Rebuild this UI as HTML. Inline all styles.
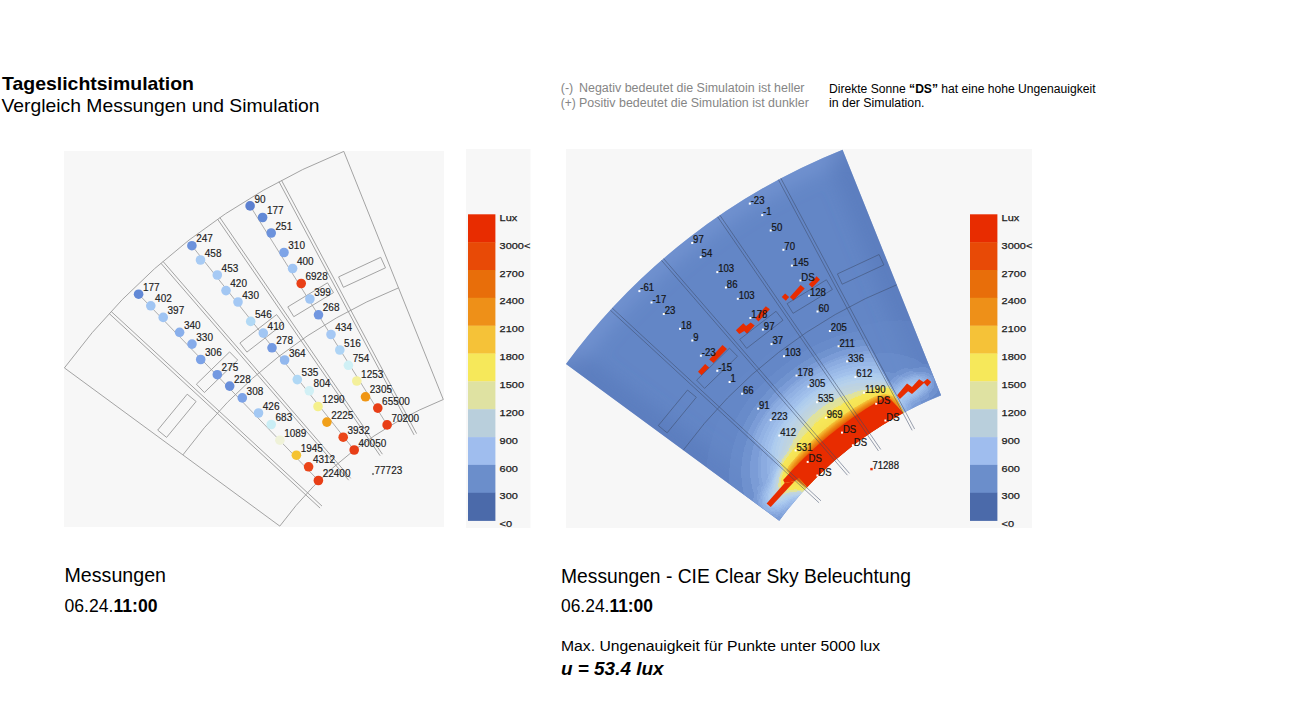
<!DOCTYPE html>
<html><head><meta charset="utf-8"><style>
html,body{margin:0;padding:0;background:#fff;width:1300px;height:728px;overflow:hidden}
svg{display:block}
</style></head><body>
<svg width="1300" height="728" viewBox="0 0 1300 728">
<g font-family="&quot;Liberation Sans&quot;, sans-serif" fill="#000">
<text x="2" y="89.7" font-size="18.2" font-weight="bold" textLength="192" lengthAdjust="spacingAndGlyphs">Tageslichtsimulation</text>
<text x="1.5" y="111.5" font-size="17.8" textLength="318" lengthAdjust="spacingAndGlyphs">Vergleich Messungen und Simulation</text>
</g>
<g font-family="&quot;Liberation Sans&quot;, sans-serif" fill="#858585" font-size="12">
<text x="560.8" y="92.4" textLength="12.5" lengthAdjust="spacingAndGlyphs">(-)</text>
<text x="579" y="92.4" textLength="225.5" lengthAdjust="spacingAndGlyphs">Negativ bedeutet die Simulatoin ist heller</text>
<text x="560.8" y="106.9" textLength="15" lengthAdjust="spacingAndGlyphs">(+)</text>
<text x="579" y="106.9" textLength="229.8" lengthAdjust="spacingAndGlyphs">Positiv bedeutet die Simulation ist dunkler</text>
</g>
<g font-family="&quot;Liberation Sans&quot;, sans-serif" fill="#000" font-size="12">
<text x="829" y="92.6" textLength="266.5" lengthAdjust="spacingAndGlyphs">Direkte Sonne <tspan font-weight="bold">“DS”</tspan> hat eine hohe Ungenauigkeit</text>
<text x="829" y="107.0" textLength="95.5" lengthAdjust="spacingAndGlyphs">in der Simulation.</text>
</g>
<g font-family="&quot;Liberation Sans&quot;, sans-serif" fill="#000">
<text x="64.5" y="582.3" font-size="20" textLength="101.5" lengthAdjust="spacingAndGlyphs">Messungen</text>
<text x="64.5" y="611.5" font-size="18.5" textLength="93" lengthAdjust="spacingAndGlyphs">06.24.<tspan font-weight="bold">11:00</tspan></text>
<text x="561" y="582.8" font-size="20" textLength="350" lengthAdjust="spacingAndGlyphs">Messungen - CIE Clear Sky Beleuchtung</text>
<text x="561" y="612" font-size="18.5" textLength="92" lengthAdjust="spacingAndGlyphs">06.24.<tspan font-weight="bold">11:00</tspan></text>
<text x="561" y="650.6" font-size="15.2" textLength="319" lengthAdjust="spacingAndGlyphs">Max. Ungenauigkeit für Punkte unter 5000 lux</text>
<text x="561" y="674.6" font-size="18" font-weight="bold" font-style="italic" textLength="102.5" lengthAdjust="spacingAndGlyphs">u = 53.4 lux</text>
</g>
<rect x="64" y="151" width="380" height="376" fill="#f7f7f7"/>
<g fill="none" stroke="#9a9a9a" stroke-width="0.9">
<path d="M64.4,367.9 A644.0,644.0 0 0 1 343.8,151.4 L443.3,399.5 A376.7,376.7 0 0 0 279.8,526.1 Z"/>
<path d="M182.9,454.9 A497.0,497.0 0 0 1 398.5,287.9"/>
<path d="M279.0,181.7 L414.1,434.9 M281.5,180.3 L416.6,433.6 M217.6,219.2 L380.1,455.7 M219.9,217.6 L382.4,454.2 M160.9,263.2 L348.7,480.2 M163.0,261.4 L350.8,478.4 M109.2,313.5 L320.1,508.1 M111.1,311.4 L322.0,506.1"/>
<path d="M338.6,276.9 L380.7,257.3 L385.5,267.8 L343.4,287.3 Z M287.8,306.9 L327.5,282.8 L333.5,292.6 L293.8,316.7 Z M239.9,343.0 L276.6,314.6 L283.6,323.7 L246.9,352.1 Z M196.4,384.2 L229.6,351.9 L237.7,360.1 L204.4,392.5 Z M157.7,430.1 L187.2,394.2 L196.1,401.5 L166.6,437.4 Z"/>
</g>
<g stroke="#9a9a9a" stroke-width="0.8">
<line x1="250.1" y1="205.9" x2="387.1" y2="424.9"/>
<line x1="191.9" y1="245.7" x2="354.2" y2="450.0"/>
<line x1="138.6" y1="294.2" x2="318.4" y2="480.5"/>
</g>
<g>
<circle cx="250.1" cy="205.9" r="4.8" fill="#5c80d0"/>
<circle cx="262.6" cy="217.5" r="4.8" fill="#6289d6"/>
<circle cx="271.2" cy="233.0" r="4.8" fill="#6c92dc"/>
<circle cx="284.0" cy="252.5" r="4.8" fill="#7ea4e7"/>
<circle cx="292.6" cy="268.5" r="4.8" fill="#a0c5f3"/>
<circle cx="301.2" cy="283.5" r="4.8" fill="#e94017"/>
<circle cx="309.9" cy="299.0" r="4.8" fill="#a0c5f3"/>
<circle cx="318.5" cy="314.8" r="4.8" fill="#7197e0"/>
<circle cx="331.0" cy="334.5" r="4.8" fill="#a5c8f4"/>
<circle cx="339.8" cy="350.0" r="4.8" fill="#aed4f5"/>
<circle cx="348.4" cy="365.3" r="4.8" fill="#cff0f5"/>
<circle cx="356.8" cy="381.0" r="4.8" fill="#f4f09b"/>
<circle cx="365.5" cy="396.8" r="4.8" fill="#f09614"/>
<circle cx="377.8" cy="408.1" r="4.8" fill="#e83e16"/>
<circle cx="387.1" cy="424.9" r="4.8" fill="#e83e16"/>
<circle cx="191.9" cy="245.7" r="4.8" fill="#6c92dc"/>
<circle cx="200.5" cy="260.0" r="4.8" fill="#a8cbf4"/>
<circle cx="217.3" cy="275.0" r="4.8" fill="#a7caf4"/>
<circle cx="226.0" cy="290.6" r="4.8" fill="#a3c7f3"/>
<circle cx="238.0" cy="302.0" r="4.8" fill="#a4c8f4"/>
<circle cx="250.7" cy="321.4" r="4.8" fill="#b2d9f5"/>
<circle cx="263.3" cy="333.1" r="4.8" fill="#a1c6f3"/>
<circle cx="272.0" cy="347.8" r="4.8" fill="#749ae2"/>
<circle cx="284.6" cy="360.0" r="4.8" fill="#92b8ee"/>
<circle cx="297.3" cy="379.6" r="4.8" fill="#b0d8f5"/>
<circle cx="309.3" cy="390.8" r="4.8" fill="#d1f0f5"/>
<circle cx="318.0" cy="406.5" r="4.8" fill="#f5f08c"/>
<circle cx="326.9" cy="422.1" r="4.8" fill="#f1a01a"/>
<circle cx="343.2" cy="437.2" r="4.8" fill="#eb4619"/>
<circle cx="354.2" cy="450.0" r="4.8" fill="#e83e16"/>
<circle cx="138.6" cy="294.2" r="4.8" fill="#6289d6"/>
<circle cx="150.8" cy="305.8" r="4.8" fill="#a0c5f3"/>
<circle cx="163.2" cy="317.4" r="4.8" fill="#9fc4f3"/>
<circle cx="179.6" cy="332.3" r="4.8" fill="#89afeb"/>
<circle cx="192.0" cy="344.1" r="4.8" fill="#85abea"/>
<circle cx="200.7" cy="359.5" r="4.8" fill="#7ca2e7"/>
<circle cx="217.3" cy="374.7" r="4.8" fill="#7399e1"/>
<circle cx="229.7" cy="386.1" r="4.8" fill="#698fda"/>
<circle cx="242.3" cy="397.9" r="4.8" fill="#7da3e7"/>
<circle cx="258.5" cy="413.0" r="4.8" fill="#a3c8f3"/>
<circle cx="271.2" cy="424.5" r="4.8" fill="#caeef5"/>
<circle cx="279.9" cy="440.2" r="4.8" fill="#eff2d8"/>
<circle cx="296.4" cy="455.2" r="4.8" fill="#f5c333"/>
<circle cx="308.6" cy="466.8" r="4.8" fill="#eb4519"/>
<circle cx="318.4" cy="480.5" r="4.8" fill="#e83e16"/>
</g>
<g font-family="&quot;Liberation Sans&quot;, sans-serif" font-size="10.1" fill="#1c1c1c" stroke="#1c1c1c" stroke-width="0.15">
<text x="254.4" y="202.5" textLength="11.1" lengthAdjust="spacingAndGlyphs">90</text>
<text x="266.9" y="214.1" textLength="16.7" lengthAdjust="spacingAndGlyphs">177</text>
<text x="275.5" y="229.6" textLength="16.7" lengthAdjust="spacingAndGlyphs">251</text>
<text x="288.3" y="249.1" textLength="16.7" lengthAdjust="spacingAndGlyphs">310</text>
<text x="296.9" y="265.1" textLength="16.7" lengthAdjust="spacingAndGlyphs">400</text>
<text x="305.5" y="280.1" textLength="22.2" lengthAdjust="spacingAndGlyphs">6928</text>
<text x="314.2" y="295.6" textLength="16.7" lengthAdjust="spacingAndGlyphs">399</text>
<text x="322.8" y="311.4" textLength="16.7" lengthAdjust="spacingAndGlyphs">268</text>
<text x="335.3" y="331.1" textLength="16.7" lengthAdjust="spacingAndGlyphs">434</text>
<text x="344.1" y="346.6" textLength="16.7" lengthAdjust="spacingAndGlyphs">516</text>
<text x="352.7" y="361.9" textLength="16.7" lengthAdjust="spacingAndGlyphs">754</text>
<text x="361.1" y="377.6" textLength="22.2" lengthAdjust="spacingAndGlyphs">1253</text>
<text x="369.8" y="393.4" textLength="22.2" lengthAdjust="spacingAndGlyphs">2305</text>
<text x="382.1" y="404.7" textLength="27.8" lengthAdjust="spacingAndGlyphs">65500</text>
<text x="391.4" y="421.5" textLength="27.8" lengthAdjust="spacingAndGlyphs">70200</text>
<text x="196.2" y="242.3" textLength="16.7" lengthAdjust="spacingAndGlyphs">247</text>
<text x="204.8" y="256.6" textLength="16.7" lengthAdjust="spacingAndGlyphs">458</text>
<text x="221.6" y="271.6" textLength="16.7" lengthAdjust="spacingAndGlyphs">453</text>
<text x="230.3" y="287.2" textLength="16.7" lengthAdjust="spacingAndGlyphs">420</text>
<text x="242.3" y="298.6" textLength="16.7" lengthAdjust="spacingAndGlyphs">430</text>
<text x="255.0" y="318.0" textLength="16.7" lengthAdjust="spacingAndGlyphs">546</text>
<text x="267.6" y="329.7" textLength="16.7" lengthAdjust="spacingAndGlyphs">410</text>
<text x="276.3" y="344.4" textLength="16.7" lengthAdjust="spacingAndGlyphs">278</text>
<text x="288.9" y="356.6" textLength="16.7" lengthAdjust="spacingAndGlyphs">364</text>
<text x="301.6" y="376.2" textLength="16.7" lengthAdjust="spacingAndGlyphs">535</text>
<text x="313.6" y="387.4" textLength="16.7" lengthAdjust="spacingAndGlyphs">804</text>
<text x="322.3" y="403.1" textLength="22.2" lengthAdjust="spacingAndGlyphs">1290</text>
<text x="331.2" y="418.7" textLength="22.2" lengthAdjust="spacingAndGlyphs">2225</text>
<text x="347.5" y="433.8" textLength="22.2" lengthAdjust="spacingAndGlyphs">3932</text>
<text x="358.5" y="446.6" textLength="27.8" lengthAdjust="spacingAndGlyphs">40050</text>
<text x="142.9" y="290.8" textLength="16.7" lengthAdjust="spacingAndGlyphs">177</text>
<text x="155.1" y="302.4" textLength="16.7" lengthAdjust="spacingAndGlyphs">402</text>
<text x="167.5" y="314.0" textLength="16.7" lengthAdjust="spacingAndGlyphs">397</text>
<text x="183.9" y="328.9" textLength="16.7" lengthAdjust="spacingAndGlyphs">340</text>
<text x="196.3" y="340.7" textLength="16.7" lengthAdjust="spacingAndGlyphs">330</text>
<text x="205.0" y="356.1" textLength="16.7" lengthAdjust="spacingAndGlyphs">306</text>
<text x="221.6" y="371.3" textLength="16.7" lengthAdjust="spacingAndGlyphs">275</text>
<text x="234.0" y="382.7" textLength="16.7" lengthAdjust="spacingAndGlyphs">228</text>
<text x="246.6" y="394.5" textLength="16.7" lengthAdjust="spacingAndGlyphs">308</text>
<text x="262.8" y="409.6" textLength="16.7" lengthAdjust="spacingAndGlyphs">426</text>
<text x="275.5" y="421.1" textLength="16.7" lengthAdjust="spacingAndGlyphs">683</text>
<text x="284.2" y="436.8" textLength="22.2" lengthAdjust="spacingAndGlyphs">1089</text>
<text x="300.7" y="451.8" textLength="22.2" lengthAdjust="spacingAndGlyphs">1945</text>
<text x="312.9" y="463.4" textLength="22.2" lengthAdjust="spacingAndGlyphs">4312</text>
<text x="322.7" y="477.1" textLength="27.8" lengthAdjust="spacingAndGlyphs">22400</text>
<circle cx="373" cy="474" r="0.8" fill="#333"/>
<text x="374.5" y="474.3" textLength="27.8" lengthAdjust="spacingAndGlyphs">77723</text>
</g>
<rect x="466" y="149" width="64.5" height="379" fill="#f7f7f7"/>
<rect x="468" y="214.3" width="27.4" height="28.1" fill="#e82c00"/>
<rect x="468" y="242.1" width="27.4" height="28.1" fill="#e84a06"/>
<rect x="468" y="270.0" width="27.4" height="28.1" fill="#e86e0a"/>
<rect x="468" y="297.8" width="27.4" height="28.1" fill="#ee9018"/>
<rect x="468" y="325.7" width="27.4" height="28.1" fill="#f5c238"/>
<rect x="468" y="353.5" width="27.4" height="28.1" fill="#f6e85a"/>
<rect x="468" y="381.4" width="27.4" height="28.1" fill="#dfe2a2"/>
<rect x="468" y="409.2" width="27.4" height="28.1" fill="#b9cfdc"/>
<rect x="468" y="437.1" width="27.4" height="28.1" fill="#9fbdee"/>
<rect x="468" y="464.9" width="27.4" height="28.1" fill="#6b8ecb"/>
<rect x="468" y="492.8" width="27.4" height="28.1" fill="#4b6aaa"/>
<g font-family="&quot;Liberation Sans&quot;, sans-serif" font-size="9.2" fill="#1c1c1c" stroke="#1c1c1c" stroke-width="0.25">
<text x="499.6" y="220.9" textLength="17.7" lengthAdjust="spacingAndGlyphs">Lux</text>
<text x="499.6" y="248.7" textLength="30.7" lengthAdjust="spacingAndGlyphs">3000&lt;</text>
<text x="499.6" y="276.6" textLength="24.4" lengthAdjust="spacingAndGlyphs">2700</text>
<text x="499.6" y="304.4" textLength="24.4" lengthAdjust="spacingAndGlyphs">2400</text>
<text x="499.6" y="332.3" textLength="24.4" lengthAdjust="spacingAndGlyphs">2100</text>
<text x="499.6" y="360.1" textLength="24.4" lengthAdjust="spacingAndGlyphs">1800</text>
<text x="499.6" y="388.0" textLength="24.4" lengthAdjust="spacingAndGlyphs">1500</text>
<text x="499.6" y="415.8" textLength="24.4" lengthAdjust="spacingAndGlyphs">1200</text>
<text x="499.6" y="443.7" textLength="18.3" lengthAdjust="spacingAndGlyphs">900</text>
<text x="499.6" y="471.5" textLength="18.3" lengthAdjust="spacingAndGlyphs">600</text>
<text x="499.6" y="499.4" textLength="18.3" lengthAdjust="spacingAndGlyphs">300</text>
<text x="499.6" y="527.2" textLength="12.5" lengthAdjust="spacingAndGlyphs">&lt;0</text>
</g>
<rect x="566" y="149" width="466" height="379" fill="#f7f7f7"/>
<g transform="translate(502.2,-0.2) scale(0.99)">
<path d="M64.4,367.9 A644.0,644.0 0 0 1 343.8,151.4 L443.3,399.5 A376.7,376.7 0 0 0 279.8,526.1 Z" fill="#6386c6"/>
</g>
<defs>
<clipPath id="fanclip"><path d="M566.0,363.9 A637.6,637.6 0 0 1 842.6,149.7 L941.1,395.4 A372.9,372.9 0 0 0 779.3,520.7 Z"/></clipPath>
<filter id="glow" filterUnits="userSpaceOnUse" x="540" y="120" width="520" height="440" color-interpolation-filters="sRGB">
<feGaussianBlur in="SourceAlpha" stdDeviation="8" result="b1"/>
<feGaussianBlur in="SourceAlpha" stdDeviation="40" result="b2"/>
<feComposite in="b1" in2="b2" operator="arithmetic" k1="0" k2="0.45" k3="0.55" k4="0" result="bs"/>
<feColorMatrix in="bs" type="matrix" values="0 0 0 1 0  0 0 0 1 0  0 0 0 1 0  0 0 0 1 0" result="ii"/>
<feComponentTransfer in="ii">
<feFuncR type="table" tableValues="0.388 0.395 0.402 0.409 0.415 0.422 0.430 0.441 0.452 0.463 0.474 0.485 0.495 0.505 0.515 0.525 0.536 0.546 0.556 0.566 0.576 0.586 0.595 0.603 0.610 0.618 0.625 0.633 0.640 0.648 0.656 0.663 0.670 0.678 0.685 0.693 0.700 0.708 0.715 0.722 0.727 0.731 0.736 0.740 0.745 0.749 0.754 0.758 0.763 0.767 0.771 0.776 0.875 0.876 0.878 0.879 0.881 0.883 0.884 0.886 0.887 0.889 0.898 0.965 0.965 0.965 0.965 0.965 0.965 0.965 0.965 0.965 0.965 0.965 0.965 0.965 0.965 0.965 0.965 0.965 0.965 0.965 0.965 0.965 0.965 0.965 0.965 0.965 0.965 0.965 0.965 0.965 0.965 0.965 0.965 0.965 0.965 0.965 0.965 0.965 0.965 0.965 0.965 0.965 0.965 0.965 0.965 0.965 0.965 0.965 0.965 0.965 0.965 0.965 0.965 0.965 0.965 0.965 0.965 0.965 0.964 0.964 0.963 0.962 0.962 0.961 0.961 0.960 0.960 0.959 0.958 0.958 0.957 0.957 0.956 0.956 0.955 0.954 0.954 0.953 0.953 0.952 0.951 0.951 0.950 0.950 0.949 0.948 0.948 0.947 0.947 0.946 0.946 0.945 0.944 0.944 0.943 0.943 0.942 0.941 0.941 0.940 0.940 0.939 0.938 0.938 0.937 0.937 0.936 0.936 0.935 0.934 0.934 0.933 0.933 0.932 0.932 0.931 0.931 0.930 0.929 0.929 0.928 0.928 0.927 0.927 0.926 0.926 0.925 0.925 0.924 0.923 0.923 0.922 0.922 0.921 0.921 0.920 0.920 0.919 0.919 0.918 0.917 0.917 0.916 0.916 0.915 0.915 0.914 0.914 0.913 0.913 0.912 0.911 0.911 0.910 0.910 0.910 0.910 0.910 0.910 0.910 0.910 0.910 0.910 0.910 0.910 0.910 0.910 0.910 0.910 0.910 0.910 0.910 0.910 0.910 0.910 0.910 0.910 0.910 0.910 0.910 0.910 0.910 0.910 0.910 0.910 0.910 0.910 0.910 0.910 0.910 0.910 0.910 0.910 0.910 0.910 0.910 0.910 0.910 0.910 0.910 0.910 0.910 0.910 0.910 0.910 0.910 0.910 0.910 0.910 0.910 0.910 0.910 0.910 0.910 0.910 0.910 0.910 0.910 0.910 0.910 0.910 0.910 0.910 0.910 0.910 0.910 0.910 0.910 0.910 0.910 0.910 0.910 0.910 0.910 0.910 0.910 0.910 0.910 0.910 0.910 0.910 0.910 0.910 0.910 0.910 0.910 0.910 0.910 0.910 0.910 0.910 0.910 0.910 0.910 0.910 0.910 0.910 0.910 0.910 0.910 0.910 0.910 0.910 0.910 0.910 0.910 0.910 0.910 0.910 0.910 0.910 0.910 0.910 0.910 0.910 0.910 0.910 0.910 0.910 0.910 0.910 0.910 0.910 0.910 0.910 0.910 0.910 0.910 0.910 0.910 0.910 0.910 0.910 0.910 0.910 0.910 0.910 0.910 0.910 0.910 0.910 0.910 0.910 0.910 0.910 0.910 0.910 0.910 0.910 0.910 0.910 0.910 0.910 0.910 0.910 0.910 0.910 0.910 0.910 0.910 0.910 0.910 0.910 0.910 0.910 0.910 0.910 0.910 0.910 0.910 0.910 0.910 0.910 0.910 0.910 0.910 0.910 0.910 0.910 0.910 0.910 0.910 0.910 0.910 0.910 0.910 0.910 0.910 0.910 0.910 0.910 0.910 0.910 0.910 0.910 0.910 0.910 0.910 0.910 0.910 0.910 0.910 0.910 0.910 0.910 0.910 0.910 0.910 0.910 0.910 0.910 0.910 0.910 0.910 0.910 0.910 0.910 0.910 0.910 0.910 0.910 0.910 0.910 0.910 0.910 0.910 0.910 0.910 0.910 0.910 0.910 0.910 0.910 0.910 0.910 0.910 0.910 0.910 0.910 0.910 0.910 0.910 0.910 0.910 0.910 0.910 0.910 0.910 0.910 0.910 0.910 0.910 0.910 0.910 0.910 0.910 0.910 0.910 0.910 0.910 0.910 0.910 0.910 0.910 0.910 0.910 0.910 0.910 0.910 0.910 0.910 0.910 0.910 0.910 0.910 0.910 0.910 0.910 0.910 0.910 0.910 0.910 0.910 0.910 0.910 0.910 0.910 0.910 0.910 0.910 0.910 0.910 0.910 0.910 0.910 0.910 0.910 0.910 0.910 0.910 0.910 0.910 0.910 0.910 0.910 0.910 0.910 0.910 0.910 0.910 0.910 0.910 0.910 0.910 0.910 0.910 0.910 0.910 0.910 0.910 0.910 0.910 0.910 0.910 0.910 0.910 0.910 0.910 0.910 0.910 0.910 0.910 0.910 0.910 0.910 0.910 0.910 0.910 0.910 0.910 0.910 0.910 0.910 0.910 0.910 0.910 0.910 0.910 0.910 0.910 0.910 0.910 0.910 0.910 0.910 0.910 0.910 0.910 0.910 0.910 0.910 0.910 0.910 0.910 0.910 0.910 0.910 0.910 0.910 0.910 0.910 0.910 0.910 0.910 0.910 0.910 0.910 0.910 0.910 0.910 0.910 0.910 0.910 0.910 0.910 0.910 0.910 0.910 0.910 0.910 0.910 0.910 0.910 0.910 0.910 0.910 0.910 0.910 0.910 0.910 0.910 0.910 0.910 0.910 0.910 0.910 0.910 0.910 0.910 0.910 0.910 0.910 0.910 0.910 0.910 0.910 0.910 0.910 0.910 0.910 0.910 0.910 0.910 0.910 0.910 0.910 0.910 0.910 0.910 0.910 0.910 0.910 0.910 0.910 0.910 0.910 0.910 0.910 0.910 0.910 0.910 0.910 0.910 0.910 0.910 0.910 0.910 0.910 0.910 0.910 0.910 0.910 0.910 0.910 0.910 0.910 0.910 0.910 0.910 0.910 0.910 0.910 0.910 0.910 0.910 0.910 0.910 0.910 0.910 0.910 0.910 0.910 0.910 0.910 0.910 0.910 0.910 0.910 0.910 0.910 0.910 0.910 0.910 0.910 0.910 0.910 0.910 0.910 0.910 0.910 0.910 0.910 0.910 0.910 0.910 0.910 0.910 0.910 0.910"/>
<feFuncG type="table" tableValues="0.525 0.532 0.539 0.546 0.553 0.560 0.567 0.577 0.586 0.596 0.605 0.615 0.624 0.634 0.644 0.653 0.663 0.673 0.683 0.692 0.702 0.712 0.720 0.728 0.735 0.742 0.749 0.756 0.763 0.770 0.777 0.785 0.790 0.795 0.801 0.806 0.812 0.817 0.823 0.827 0.827 0.827 0.827 0.827 0.829 0.832 0.834 0.837 0.839 0.842 0.844 0.847 0.886 0.887 0.888 0.889 0.890 0.890 0.891 0.892 0.893 0.893 0.896 0.910 0.909 0.909 0.908 0.908 0.907 0.907 0.906 0.906 0.905 0.905 0.904 0.904 0.903 0.903 0.902 0.902 0.901 0.901 0.900 0.900 0.899 0.899 0.898 0.898 0.897 0.897 0.896 0.896 0.895 0.895 0.894 0.894 0.893 0.893 0.893 0.892 0.892 0.891 0.891 0.890 0.890 0.889 0.889 0.888 0.888 0.887 0.887 0.886 0.886 0.885 0.885 0.884 0.884 0.883 0.883 0.879 0.862 0.845 0.828 0.811 0.795 0.778 0.761 0.757 0.752 0.748 0.744 0.740 0.736 0.731 0.727 0.723 0.719 0.715 0.711 0.706 0.702 0.698 0.694 0.690 0.685 0.681 0.677 0.673 0.669 0.664 0.660 0.656 0.652 0.648 0.643 0.639 0.635 0.631 0.627 0.623 0.618 0.614 0.610 0.606 0.602 0.597 0.593 0.589 0.585 0.581 0.576 0.572 0.568 0.564 0.561 0.558 0.555 0.552 0.549 0.546 0.542 0.539 0.536 0.533 0.530 0.527 0.524 0.521 0.518 0.515 0.512 0.509 0.505 0.502 0.499 0.496 0.493 0.490 0.487 0.484 0.481 0.478 0.475 0.471 0.468 0.465 0.462 0.459 0.456 0.453 0.450 0.447 0.444 0.441 0.438 0.434 0.431 0.427 0.424 0.420 0.416 0.412 0.408 0.404 0.400 0.396 0.392 0.388 0.384 0.380 0.376 0.373 0.369 0.365 0.361 0.357 0.353 0.349 0.345 0.341 0.337 0.333 0.329 0.325 0.322 0.318 0.314 0.310 0.306 0.302 0.298 0.294 0.290 0.288 0.286 0.283 0.281 0.279 0.276 0.274 0.272 0.269 0.267 0.265 0.262 0.260 0.258 0.255 0.253 0.251 0.248 0.246 0.244 0.241 0.239 0.237 0.234 0.232 0.230 0.227 0.225 0.223 0.220 0.218 0.215 0.213 0.211 0.208 0.206 0.204 0.201 0.199 0.197 0.194 0.192 0.190 0.187 0.185 0.183 0.180 0.178 0.176 0.173 0.173 0.173 0.173 0.173 0.173 0.173 0.173 0.173 0.173 0.173 0.173 0.173 0.173 0.173 0.173 0.173 0.173 0.173 0.173 0.173 0.173 0.173 0.173 0.173 0.173 0.173 0.173 0.173 0.173 0.173 0.173 0.173 0.173 0.173 0.173 0.173 0.173 0.173 0.173 0.173 0.173 0.173 0.173 0.173 0.173 0.173 0.173 0.173 0.173 0.173 0.173 0.173 0.173 0.173 0.173 0.173 0.173 0.173 0.173 0.173 0.173 0.173 0.173 0.173 0.173 0.173 0.173 0.173 0.173 0.173 0.173 0.173 0.173 0.173 0.173 0.173 0.173 0.173 0.173 0.173 0.173 0.173 0.173 0.173 0.173 0.173 0.173 0.173 0.173 0.173 0.173 0.173 0.173 0.173 0.173 0.173 0.173 0.173 0.173 0.173 0.173 0.173 0.173 0.173 0.173 0.173 0.173 0.173 0.173 0.173 0.173 0.173 0.173 0.173 0.173 0.173 0.173 0.173 0.173 0.173 0.173 0.173 0.173 0.173 0.173 0.173 0.173 0.173 0.173 0.173 0.173 0.173 0.173 0.173 0.173 0.173 0.173 0.173 0.173 0.173 0.173 0.173 0.173 0.173 0.173 0.173 0.173 0.173 0.173 0.173 0.173 0.173 0.173 0.173 0.173 0.173 0.173 0.173 0.173 0.173 0.173 0.173 0.173 0.173 0.173 0.173 0.173 0.173 0.173 0.173 0.173 0.173 0.173 0.173 0.173 0.173 0.173 0.173 0.173 0.173 0.173 0.173 0.173 0.173 0.173 0.173 0.173 0.173 0.173 0.173 0.173 0.173 0.173 0.173 0.173 0.173 0.173 0.173 0.173 0.173 0.173 0.173 0.173 0.173 0.173 0.173 0.173 0.173 0.173 0.173 0.173 0.173 0.173 0.173 0.173 0.173 0.173 0.173 0.173 0.173 0.173 0.173 0.173 0.173 0.173 0.173 0.173 0.173 0.173 0.173 0.173 0.173 0.173 0.173 0.173 0.173 0.173 0.173 0.173 0.173 0.173 0.173 0.173 0.173 0.173 0.173 0.173 0.173 0.173 0.173 0.173 0.173 0.173 0.173 0.173 0.173 0.173 0.173 0.173 0.173 0.173 0.173 0.173 0.173 0.173 0.173 0.173 0.173 0.173 0.173 0.173 0.173 0.173 0.173 0.173 0.173 0.173 0.173 0.173 0.173 0.173 0.173 0.173 0.173 0.173 0.173 0.173 0.173 0.173 0.173 0.173 0.173 0.173 0.173 0.173 0.173 0.173 0.173 0.173 0.173 0.173 0.173 0.173 0.173 0.173 0.173 0.173 0.173 0.173 0.173 0.173 0.173 0.173 0.173 0.173 0.173 0.173 0.173 0.173 0.173 0.173 0.173 0.173 0.173 0.173 0.173 0.173 0.173 0.173 0.173 0.173 0.173 0.173 0.173 0.173 0.173 0.173 0.173 0.173 0.173 0.173 0.173 0.173 0.173 0.173 0.173 0.173 0.173 0.173 0.173 0.173 0.173 0.173 0.173 0.173 0.173 0.173 0.173 0.173 0.173 0.173 0.173 0.173 0.173 0.173 0.173 0.173 0.173 0.173 0.173 0.173 0.173 0.173 0.173 0.173 0.173 0.173 0.173 0.173 0.173 0.173 0.173 0.173 0.173 0.173 0.173 0.173 0.173 0.173 0.173 0.173 0.173 0.173 0.173 0.173 0.173 0.173 0.173 0.173 0.173 0.173 0.173 0.173 0.173 0.173 0.173 0.173 0.173 0.173 0.173 0.173 0.173 0.173 0.173 0.173 0.173 0.173 0.173"/>
<feFuncB type="table" tableValues="0.776 0.782 0.787 0.793 0.798 0.804 0.809 0.816 0.823 0.830 0.837 0.844 0.850 0.856 0.862 0.867 0.873 0.879 0.885 0.891 0.897 0.902 0.907 0.911 0.914 0.917 0.921 0.924 0.927 0.931 0.934 0.937 0.936 0.934 0.933 0.931 0.930 0.928 0.927 0.924 0.915 0.906 0.897 0.888 0.882 0.877 0.872 0.867 0.863 0.858 0.853 0.848 0.635 0.630 0.625 0.621 0.616 0.611 0.607 0.602 0.597 0.593 0.562 0.353 0.352 0.352 0.351 0.351 0.350 0.349 0.349 0.348 0.348 0.347 0.347 0.346 0.345 0.345 0.344 0.344 0.343 0.343 0.342 0.342 0.341 0.340 0.340 0.339 0.339 0.338 0.338 0.337 0.337 0.336 0.335 0.335 0.334 0.334 0.333 0.333 0.332 0.332 0.331 0.330 0.330 0.329 0.329 0.328 0.328 0.327 0.326 0.326 0.325 0.325 0.324 0.324 0.323 0.323 0.322 0.319 0.305 0.290 0.276 0.262 0.248 0.234 0.220 0.217 0.214 0.212 0.209 0.206 0.204 0.201 0.198 0.195 0.193 0.190 0.187 0.185 0.182 0.179 0.177 0.174 0.171 0.169 0.166 0.163 0.161 0.158 0.155 0.153 0.150 0.147 0.145 0.142 0.139 0.136 0.134 0.131 0.128 0.126 0.123 0.120 0.118 0.115 0.112 0.110 0.107 0.104 0.102 0.099 0.096 0.094 0.093 0.091 0.090 0.089 0.088 0.086 0.085 0.084 0.082 0.081 0.080 0.079 0.077 0.076 0.075 0.074 0.072 0.071 0.070 0.068 0.067 0.066 0.065 0.063 0.062 0.061 0.060 0.058 0.057 0.056 0.054 0.053 0.052 0.051 0.049 0.048 0.047 0.046 0.044 0.043 0.042 0.040 0.039 0.039 0.038 0.038 0.037 0.037 0.037 0.036 0.036 0.035 0.035 0.034 0.034 0.034 0.033 0.033 0.032 0.032 0.031 0.031 0.031 0.030 0.030 0.029 0.029 0.028 0.028 0.027 0.027 0.027 0.026 0.026 0.025 0.025 0.024 0.024 0.024 0.023 0.023 0.022 0.022 0.021 0.021 0.020 0.020 0.019 0.019 0.018 0.018 0.017 0.017 0.017 0.016 0.016 0.015 0.015 0.014 0.014 0.013 0.013 0.012 0.012 0.011 0.011 0.010 0.010 0.010 0.009 0.009 0.008 0.008 0.007 0.007 0.006 0.006 0.005 0.005 0.004 0.004 0.003 0.003 0.003 0.002 0.002 0.001 0.001 0.000 0.000 0.000 0.000 0.000 0.000 0.000 0.000 0.000 0.000 0.000 0.000 0.000 0.000 0.000 0.000 0.000 0.000 0.000 0.000 0.000 0.000 0.000 0.000 0.000 0.000 0.000 0.000 0.000 0.000 0.000 0.000 0.000 0.000 0.000 0.000 0.000 0.000 0.000 0.000 0.000 0.000 0.000 0.000 0.000 0.000 0.000 0.000 0.000 0.000 0.000 0.000 0.000 0.000 0.000 0.000 0.000 0.000 0.000 0.000 0.000 0.000 0.000 0.000 0.000 0.000 0.000 0.000 0.000 0.000 0.000 0.000 0.000 0.000 0.000 0.000 0.000 0.000 0.000 0.000 0.000 0.000 0.000 0.000 0.000 0.000 0.000 0.000 0.000 0.000 0.000 0.000 0.000 0.000 0.000 0.000 0.000 0.000 0.000 0.000 0.000 0.000 0.000 0.000 0.000 0.000 0.000 0.000 0.000 0.000 0.000 0.000 0.000 0.000 0.000 0.000 0.000 0.000 0.000 0.000 0.000 0.000 0.000 0.000 0.000 0.000 0.000 0.000 0.000 0.000 0.000 0.000 0.000 0.000 0.000 0.000 0.000 0.000 0.000 0.000 0.000 0.000 0.000 0.000 0.000 0.000 0.000 0.000 0.000 0.000 0.000 0.000 0.000 0.000 0.000 0.000 0.000 0.000 0.000 0.000 0.000 0.000 0.000 0.000 0.000 0.000 0.000 0.000 0.000 0.000 0.000 0.000 0.000 0.000 0.000 0.000 0.000 0.000 0.000 0.000 0.000 0.000 0.000 0.000 0.000 0.000 0.000 0.000 0.000 0.000 0.000 0.000 0.000 0.000 0.000 0.000 0.000 0.000 0.000 0.000 0.000 0.000 0.000 0.000 0.000 0.000 0.000 0.000 0.000 0.000 0.000 0.000 0.000 0.000 0.000 0.000 0.000 0.000 0.000 0.000 0.000 0.000 0.000 0.000 0.000 0.000 0.000 0.000 0.000 0.000 0.000 0.000 0.000 0.000 0.000 0.000 0.000 0.000 0.000 0.000 0.000 0.000 0.000 0.000 0.000 0.000 0.000 0.000 0.000 0.000 0.000 0.000 0.000 0.000 0.000 0.000 0.000 0.000 0.000 0.000 0.000 0.000 0.000 0.000 0.000 0.000 0.000 0.000 0.000 0.000 0.000 0.000 0.000 0.000 0.000 0.000 0.000 0.000 0.000 0.000 0.000 0.000 0.000 0.000 0.000 0.000 0.000 0.000 0.000 0.000 0.000 0.000 0.000 0.000 0.000 0.000 0.000 0.000 0.000 0.000 0.000 0.000 0.000 0.000 0.000 0.000 0.000 0.000 0.000 0.000 0.000 0.000 0.000 0.000 0.000 0.000 0.000 0.000 0.000 0.000 0.000 0.000 0.000 0.000 0.000 0.000 0.000 0.000 0.000 0.000 0.000 0.000 0.000 0.000 0.000 0.000 0.000 0.000 0.000 0.000 0.000 0.000 0.000 0.000 0.000 0.000 0.000 0.000 0.000 0.000 0.000 0.000 0.000 0.000 0.000 0.000 0.000 0.000 0.000 0.000 0.000 0.000 0.000 0.000 0.000 0.000 0.000 0.000 0.000 0.000 0.000 0.000 0.000 0.000 0.000 0.000 0.000 0.000 0.000 0.000 0.000 0.000 0.000 0.000 0.000 0.000 0.000 0.000 0.000 0.000 0.000 0.000 0.000 0.000 0.000 0.000 0.000 0.000 0.000 0.000 0.000 0.000 0.000 0.000 0.000 0.000 0.000 0.000 0.000 0.000 0.000 0.000 0.000 0.000 0.000 0.000 0.000 0.000 0.000"/>
<feFuncA type="table" tableValues="0.000 0.104 0.208 0.312 0.417 0.521 0.617 0.686 0.756 0.825 0.894 0.964 1.000 1.000 1.000 1.000 1.000 1.000 1.000 1.000 1.000 1.000 1.000 1.000 1.000 1.000 1.000 1.000 1.000 1.000 1.000 1.000 1.000 1.000 1.000 1.000 1.000 1.000 1.000 1.000 1.000 1.000 1.000 1.000 1.000 1.000 1.000 1.000 1.000 1.000 1.000 1.000 1.000 1.000 1.000 1.000 1.000 1.000 1.000 1.000 1.000 1.000 1.000 1.000 1.000 1.000 1.000 1.000 1.000 1.000 1.000 1.000 1.000 1.000 1.000 1.000 1.000 1.000 1.000 1.000 1.000 1.000 1.000 1.000 1.000 1.000 1.000 1.000 1.000 1.000 1.000 1.000 1.000 1.000 1.000 1.000 1.000 1.000 1.000 1.000 1.000 1.000 1.000 1.000 1.000 1.000 1.000 1.000 1.000 1.000 1.000 1.000 1.000 1.000 1.000 1.000 1.000 1.000 1.000 1.000 1.000 1.000 1.000 1.000 1.000 1.000 1.000 1.000 1.000 1.000 1.000 1.000 1.000 1.000 1.000 1.000 1.000 1.000 1.000 1.000 1.000 1.000 1.000 1.000 1.000 1.000 1.000 1.000 1.000 1.000 1.000 1.000 1.000 1.000 1.000 1.000 1.000 1.000 1.000 1.000 1.000 1.000 1.000 1.000 1.000 1.000 1.000 1.000 1.000 1.000 1.000 1.000 1.000 1.000 1.000 1.000 1.000 1.000 1.000 1.000 1.000 1.000 1.000 1.000 1.000 1.000 1.000 1.000 1.000 1.000 1.000 1.000 1.000 1.000 1.000 1.000 1.000 1.000 1.000 1.000 1.000 1.000 1.000 1.000 1.000 1.000 1.000 1.000 1.000 1.000 1.000 1.000 1.000 1.000 1.000 1.000 1.000 1.000 1.000 1.000 1.000 1.000 1.000 1.000 1.000 1.000 1.000 1.000 1.000 1.000 1.000 1.000 1.000 1.000 1.000 1.000 1.000 1.000 1.000 1.000 1.000 1.000 1.000 1.000 1.000 1.000 1.000 1.000 1.000 1.000 1.000 1.000 1.000 1.000 1.000 1.000 1.000 1.000 1.000 1.000 1.000 1.000 1.000 1.000 1.000 1.000 1.000 1.000 1.000 1.000 1.000 1.000 1.000 1.000 1.000 1.000 1.000 1.000 1.000 1.000 1.000 1.000 1.000 1.000 1.000 1.000 1.000 1.000 1.000 1.000 1.000 1.000 1.000 1.000 1.000 1.000 1.000 1.000 1.000 1.000 1.000 1.000 1.000 1.000 1.000 1.000 1.000 1.000 1.000 1.000 1.000 1.000 1.000 1.000 1.000 1.000 1.000 1.000 1.000 1.000 1.000 1.000 1.000 1.000 1.000 1.000 1.000 1.000 1.000 1.000 1.000 1.000 1.000 1.000 1.000 1.000 1.000 1.000 1.000 1.000 1.000 1.000 1.000 1.000 1.000 1.000 1.000 1.000 1.000 1.000 1.000 1.000 1.000 1.000 1.000 1.000 1.000 1.000 1.000 1.000 1.000 1.000 1.000 1.000 1.000 1.000 1.000 1.000 1.000 1.000 1.000 1.000 1.000 1.000 1.000 1.000 1.000 1.000 1.000 1.000 1.000 1.000 1.000 1.000 1.000 1.000 1.000 1.000 1.000 1.000 1.000 1.000 1.000 1.000 1.000 1.000 1.000 1.000 1.000 1.000 1.000 1.000 1.000 1.000 1.000 1.000 1.000 1.000 1.000 1.000 1.000 1.000 1.000 1.000 1.000 1.000 1.000 1.000 1.000 1.000 1.000 1.000 1.000 1.000 1.000 1.000 1.000 1.000 1.000 1.000 1.000 1.000 1.000 1.000 1.000 1.000 1.000 1.000 1.000 1.000 1.000 1.000 1.000 1.000 1.000 1.000 1.000 1.000 1.000 1.000 1.000 1.000 1.000 1.000 1.000 1.000 1.000 1.000 1.000 1.000 1.000 1.000 1.000 1.000 1.000 1.000 1.000 1.000 1.000 1.000 1.000 1.000 1.000 1.000 1.000 1.000 1.000 1.000 1.000 1.000 1.000 1.000 1.000 1.000 1.000 1.000 1.000 1.000 1.000 1.000 1.000 1.000 1.000 1.000 1.000 1.000 1.000 1.000 1.000 1.000 1.000 1.000 1.000 1.000 1.000 1.000 1.000 1.000 1.000 1.000 1.000 1.000 1.000 1.000 1.000 1.000 1.000 1.000 1.000 1.000 1.000 1.000 1.000 1.000 1.000 1.000 1.000 1.000 1.000 1.000 1.000 1.000 1.000 1.000 1.000 1.000 1.000 1.000 1.000 1.000 1.000 1.000 1.000 1.000 1.000 1.000 1.000 1.000 1.000 1.000 1.000 1.000 1.000 1.000 1.000 1.000 1.000 1.000 1.000 1.000 1.000 1.000 1.000 1.000 1.000 1.000 1.000 1.000 1.000 1.000 1.000 1.000 1.000 1.000 1.000 1.000 1.000 1.000 1.000 1.000 1.000 1.000 1.000 1.000 1.000 1.000 1.000 1.000 1.000 1.000 1.000 1.000 1.000 1.000 1.000 1.000 1.000 1.000 1.000 1.000 1.000 1.000 1.000 1.000 1.000 1.000 1.000 1.000 1.000 1.000 1.000 1.000 1.000 1.000 1.000 1.000 1.000 1.000 1.000 1.000 1.000 1.000 1.000 1.000 1.000 1.000 1.000 1.000 1.000 1.000 1.000 1.000 1.000 1.000 1.000 1.000 1.000 1.000 1.000 1.000 1.000 1.000 1.000 1.000 1.000 1.000 1.000 1.000 1.000 1.000 1.000 1.000 1.000 1.000 1.000 1.000 1.000 1.000 1.000 1.000 1.000 1.000 1.000 1.000 1.000 1.000 1.000 1.000 1.000 1.000 1.000 1.000 1.000 1.000 1.000 1.000 1.000 1.000 1.000 1.000 1.000 1.000 1.000 1.000 1.000 1.000 1.000 1.000 1.000 1.000 1.000 1.000 1.000 1.000 1.000 1.000 1.000 1.000 1.000 1.000 1.000 1.000 1.000 1.000 1.000 1.000 1.000 1.000 1.000 1.000 1.000 1.000 1.000 1.000 1.000 1.000 1.000 1.000 1.000 1.000 1.000"/>
</feComponentTransfer>
</filter>
</defs>
<filter id="shb" filterUnits="userSpaceOnUse" x="540" y="120" width="520" height="440"><feGaussianBlur stdDeviation="9"/></filter>
<g clip-path="url(#fanclip)">
<g filter="url(#shb)">
<path d="M566.0,363.9 A637.6,637.6 0 0 1 842.6,149.7" fill="none" stroke="#7d9dd8" stroke-width="22" stroke-opacity="0.55"/>
<path d="M566.0,363.9 L779.3,520.7" fill="none" stroke="#5274b5" stroke-width="36" stroke-opacity="0.45"/>
<path d="M842.6,149.7 L941.1,395.4" fill="none" stroke="#5274b5" stroke-width="36" stroke-opacity="0.45"/>
</g>
<clipPath id="clipS1"><path d="M750.3,123.9 A700,700 0 0 1 958.2,52.1 L1027.7,446.1 A300,300 0 0 0 938.6,476.8 Z"/></clipPath>
<clipPath id="clipS25"><path d="M565.4,266.8 A700,700 0 0 1 750.3,123.9 L938.6,476.8 A300,300 0 0 0 859.3,538.1 Z"/></clipPath>
<clipPath id="clipS5"><path d="M473.6,391.5 A700,700 0 0 1 565.4,266.8 L859.3,538.1 A300,300 0 0 0 820.0,591.5 Z"/></clipPath>
<g clip-path="url(#clipS25)"><g filter="url(#glow)">
<path d="M903.6,412.9 L887.7,396.4 L887.5,395.9 L884.5,397.6 L881.6,399.2 L878.7,400.9 L875.8,402.7 L872.9,404.4 L870.1,406.2 L867.2,408.0 L864.4,409.8 L861.6,411.7 L858.8,413.5 L856.0,415.4 L853.2,417.3 L850.5,419.3 L847.7,421.2 L845.0,423.2 L842.3,425.2 L839.7,427.3 L837.0,429.3 L834.3,431.4 L831.7,433.5 L829.1,435.6 L826.5,437.8 L823.9,439.9 L821.4,442.1 L818.8,444.3 L816.3,446.5 L813.8,448.8 L811.3,451.1 L808.9,453.4 L806.4,455.7 L804.0,458.0 L801.6,460.4 L799.2,462.8 L796.9,465.2 L794.5,467.6 L792.2,470.0 L789.9,472.5 L787.6,474.9 L785.4,477.4 L783.1,480.0 L784.7,483.0 L794.6,481.3 L799.0,477.5 L806.5,486.5 L807.0,488.0 L809.1,485.8 L811.2,483.5 L813.4,481.3 L815.5,479.1 L817.7,477.0 L819.9,474.8 L822.1,472.7 L824.3,470.6 L826.5,468.5 L828.8,466.4 L831.1,464.3 L833.4,462.3 L835.7,460.3 L838.0,458.3 L840.4,456.3 L842.7,454.3 L845.1,452.4 L847.5,450.4 L849.9,448.5 L852.3,446.6 L854.8,444.8 L857.2,442.9 L859.7,441.1 L862.2,439.3 L864.7,437.5 L867.2,435.8 L869.7,434.0 L872.3,432.3 L874.8,430.6 L877.4,428.9 L880.0,427.3 L882.6,425.6 L885.2,424.0 L887.8,422.4 L890.4,420.8 L893.1,419.3 L895.8,417.8 L898.4,416.2 L901.1,414.8 L903.8,413.3 Z" fill="#e82c00"/>
<path d="M897.1,395.2 L907.0,383.6 L912.0,386.9 L919.1,379.2 L923.5,382.0 L927.4,378.7 L931.2,382.0 L927.4,386.4 L924.1,383.1 L912.0,394.1 L908.1,391.3 L899.9,399.0 Z" fill="#e82c00" fill-opacity="0.1"/>
<path d="M784.7,483.0 L766.6,503.6 L770.7,506.9 L794.6,481.3 Z" fill="#e82c00" fill-opacity="0.2"/>
</g></g>
<g clip-path="url(#clipS5)"><g filter="url(#glow)">
<path d="M903.6,412.9 L887.7,396.4 L887.5,395.9 L884.5,397.6 L881.6,399.2 L878.7,400.9 L875.8,402.7 L872.9,404.4 L870.1,406.2 L867.2,408.0 L864.4,409.8 L861.6,411.7 L858.8,413.5 L856.0,415.4 L853.2,417.3 L850.5,419.3 L847.7,421.2 L845.0,423.2 L842.3,425.2 L839.7,427.3 L837.0,429.3 L834.3,431.4 L831.7,433.5 L829.1,435.6 L826.5,437.8 L823.9,439.9 L821.4,442.1 L818.8,444.3 L816.3,446.5 L813.8,448.8 L811.3,451.1 L808.9,453.4 L806.4,455.7 L804.0,458.0 L801.6,460.4 L799.2,462.8 L796.9,465.2 L794.5,467.6 L792.2,470.0 L789.9,472.5 L787.6,474.9 L785.4,477.4 L783.1,480.0 L784.7,483.0 L794.6,481.3 L799.0,477.5 L806.5,486.5 L807.0,488.0 L809.1,485.8 L811.2,483.5 L813.4,481.3 L815.5,479.1 L817.7,477.0 L819.9,474.8 L822.1,472.7 L824.3,470.6 L826.5,468.5 L828.8,466.4 L831.1,464.3 L833.4,462.3 L835.7,460.3 L838.0,458.3 L840.4,456.3 L842.7,454.3 L845.1,452.4 L847.5,450.4 L849.9,448.5 L852.3,446.6 L854.8,444.8 L857.2,442.9 L859.7,441.1 L862.2,439.3 L864.7,437.5 L867.2,435.8 L869.7,434.0 L872.3,432.3 L874.8,430.6 L877.4,428.9 L880.0,427.3 L882.6,425.6 L885.2,424.0 L887.8,422.4 L890.4,420.8 L893.1,419.3 L895.8,417.8 L898.4,416.2 L901.1,414.8 L903.8,413.3 Z" fill="#e82c00" fill-opacity="0.6"/>
<path d="M784.7,483.0 L766.6,503.6 L770.7,506.9 L794.6,481.3 Z" fill="#e82c00" fill-opacity="0.3"/>
</g></g>
<g clip-path="url(#clipS1)"><g filter="url(#glow)">
<path d="M903.6,412.9 L887.7,396.4 L887.5,395.9 L884.5,397.6 L881.6,399.2 L878.7,400.9 L875.8,402.7 L872.9,404.4 L870.1,406.2 L867.2,408.0 L864.4,409.8 L861.6,411.7 L858.8,413.5 L856.0,415.4 L853.2,417.3 L850.5,419.3 L847.7,421.2 L845.0,423.2 L842.3,425.2 L839.7,427.3 L837.0,429.3 L834.3,431.4 L831.7,433.5 L829.1,435.6 L826.5,437.8 L823.9,439.9 L821.4,442.1 L818.8,444.3 L816.3,446.5 L813.8,448.8 L811.3,451.1 L808.9,453.4 L806.4,455.7 L804.0,458.0 L801.6,460.4 L799.2,462.8 L796.9,465.2 L794.5,467.6 L792.2,470.0 L789.9,472.5 L787.6,474.9 L785.4,477.4 L783.1,480.0 L784.7,483.0 L794.6,481.3 L799.0,477.5 L806.5,486.5 L807.0,488.0 L809.1,485.8 L811.2,483.5 L813.4,481.3 L815.5,479.1 L817.7,477.0 L819.9,474.8 L822.1,472.7 L824.3,470.6 L826.5,468.5 L828.8,466.4 L831.1,464.3 L833.4,462.3 L835.7,460.3 L838.0,458.3 L840.4,456.3 L842.7,454.3 L845.1,452.4 L847.5,450.4 L849.9,448.5 L852.3,446.6 L854.8,444.8 L857.2,442.9 L859.7,441.1 L862.2,439.3 L864.7,437.5 L867.2,435.8 L869.7,434.0 L872.3,432.3 L874.8,430.6 L877.4,428.9 L880.0,427.3 L882.6,425.6 L885.2,424.0 L887.8,422.4 L890.4,420.8 L893.1,419.3 L895.8,417.8 L898.4,416.2 L901.1,414.8 L903.8,413.3 Z" fill="#e82c00" fill-opacity="0.2"/>
<path d="M897.1,395.2 L907.0,383.6 L912.0,386.9 L919.1,379.2 L923.5,382.0 L927.4,378.7 L931.2,382.0 L927.4,386.4 L924.1,383.1 L912.0,394.1 L908.1,391.3 L899.9,399.0 Z" fill="#e82c00" fill-opacity="0.25"/>
</g></g>
<path d="M903.6,412.9 L887.7,396.4 L887.5,395.9 L884.5,397.6 L881.6,399.2 L878.7,400.9 L875.8,402.7 L872.9,404.4 L870.1,406.2 L867.2,408.0 L864.4,409.8 L861.6,411.7 L858.8,413.5 L856.0,415.4 L853.2,417.3 L850.5,419.3 L847.7,421.2 L845.0,423.2 L842.3,425.2 L839.7,427.3 L837.0,429.3 L834.3,431.4 L831.7,433.5 L829.1,435.6 L826.5,437.8 L823.9,439.9 L821.4,442.1 L818.8,444.3 L816.3,446.5 L813.8,448.8 L811.3,451.1 L808.9,453.4 L806.4,455.7 L804.0,458.0 L801.6,460.4 L799.2,462.8 L796.9,465.2 L794.5,467.6 L792.2,470.0 L789.9,472.5 L787.6,474.9 L785.4,477.4 L783.1,480.0 L784.7,483.0 L794.6,481.3 L799.0,477.5 L806.5,486.5 L807.0,488.0 L809.1,485.8 L811.2,483.5 L813.4,481.3 L815.5,479.1 L817.7,477.0 L819.9,474.8 L822.1,472.7 L824.3,470.6 L826.5,468.5 L828.8,466.4 L831.1,464.3 L833.4,462.3 L835.7,460.3 L838.0,458.3 L840.4,456.3 L842.7,454.3 L845.1,452.4 L847.5,450.4 L849.9,448.5 L852.3,446.6 L854.8,444.8 L857.2,442.9 L859.7,441.1 L862.2,439.3 L864.7,437.5 L867.2,435.8 L869.7,434.0 L872.3,432.3 L874.8,430.6 L877.4,428.9 L880.0,427.3 L882.6,425.6 L885.2,424.0 L887.8,422.4 L890.4,420.8 L893.1,419.3 L895.8,417.8 L898.4,416.2 L901.1,414.8 L903.8,413.3 Z" fill="#e82c00"/>
<path d="M897.1,395.2 L907.0,383.6 L912.0,386.9 L919.1,379.2 L923.5,382.0 L927.4,378.7 L931.2,382.0 L927.4,386.4 L924.1,383.1 L912.0,394.1 L908.1,391.3 L899.9,399.0 Z" fill="#e82c00"/>
<path d="M784.7,483.0 L766.6,503.6 L770.7,506.9 L794.6,481.3 Z" fill="#e82c00"/>
</g>
<path d="M808.8,284.2 L816.7,276.3 L820.0,279.8 L812.2,287.7 Z" fill="#e82c00"/>
<path d="M789.9,296.9 L800.6,284.9 L804.7,288.4 L793.4,300.4 Z" fill="#e82c00"/>
<path d="M781.7,296.9 L785.1,293.5 L789.2,296.9 L785.8,300.7 Z" fill="#e82c00"/>
<path d="M755.3,318.2 L765.8,306.2 L769.9,309.3 L758.4,321.6 Z" fill="#e82c00"/>
<path d="M735.9,330.3 L743.3,323.2 L746.1,326.0 L750.7,322.6 L754.7,325.6 L747.0,333.7 L744.2,330.9 L739.3,334.0 Z" fill="#e82c00"/>
<path d="M709.2,359.6 L722.5,345.0 L727.0,349.0 L713.5,363.0 Z" fill="#e82c00"/>
<path d="M698.0,371.7 L705.1,364.0 L709.2,367.6 L701.5,375.3 Z" fill="#e82c00"/>
<g transform="translate(502.2,-0.2) scale(0.99)">
<g fill="none" stroke="#3d4a66" stroke-width="0.75" opacity="0.7">
<path d="M182.9,454.9 A497.0,497.0 0 0 1 398.5,287.9"/>
<path d="M279.0,181.7 L414.1,434.9 M281.5,180.3 L416.6,433.6 M217.6,219.2 L380.1,455.7 M219.9,217.6 L382.4,454.2 M160.9,263.2 L348.7,480.2 M163.0,261.4 L350.8,478.4 M109.2,313.5 L320.1,508.1 M111.1,311.4 L322.0,506.1"/>
<path d="M338.6,276.9 L380.7,257.3 L385.5,267.8 L343.4,287.3 Z M287.8,306.9 L327.5,282.8 L333.5,292.6 L293.8,316.7 Z M239.9,343.0 L276.6,314.6 L283.6,323.7 L246.9,352.1 Z M196.4,384.2 L229.6,351.9 L237.7,360.1 L204.4,392.5 Z M157.7,430.1 L187.2,394.2 L196.1,401.5 L166.6,437.4 Z"/>
</g>
</g>
<g font-family="&quot;Liberation Sans&quot;, sans-serif" font-size="10.3" fill="#141414" stroke="#141414" stroke-width="0.2">
<rect x="748.8" y="202.6" width="2" height="2" fill="#fff" stroke="none"/>
<text x="750.7" y="203.8" textLength="13.8" lengthAdjust="spacingAndGlyphs">-23</text>
<rect x="761.2" y="214.1" width="2" height="2" fill="#fff" stroke="none"/>
<text x="763.1" y="215.3" textLength="8.5" lengthAdjust="spacingAndGlyphs">-1</text>
<rect x="769.7" y="229.5" width="2" height="2" fill="#fff" stroke="none"/>
<text x="771.6" y="230.7" textLength="10.7" lengthAdjust="spacingAndGlyphs">50</text>
<rect x="782.4" y="248.8" width="2" height="2" fill="#fff" stroke="none"/>
<text x="784.3" y="250.0" textLength="10.7" lengthAdjust="spacingAndGlyphs">70</text>
<rect x="790.9" y="264.6" width="2" height="2" fill="#fff" stroke="none"/>
<text x="792.8" y="265.8" textLength="16.0" lengthAdjust="spacingAndGlyphs">145</text>
<rect x="799.4" y="279.5" width="2" height="2" fill="#fff" stroke="none"/>
<text x="801.3" y="280.7" textLength="13.3" lengthAdjust="spacingAndGlyphs">DS</text>
<rect x="808.0" y="294.8" width="2" height="2" fill="#fff" stroke="none"/>
<text x="809.9" y="296.0" textLength="16.0" lengthAdjust="spacingAndGlyphs">128</text>
<rect x="816.5" y="310.5" width="2" height="2" fill="#fff" stroke="none"/>
<text x="818.4" y="311.7" textLength="10.7" lengthAdjust="spacingAndGlyphs">60</text>
<rect x="828.9" y="330.0" width="2" height="2" fill="#fff" stroke="none"/>
<text x="830.8" y="331.2" textLength="16.0" lengthAdjust="spacingAndGlyphs">205</text>
<rect x="837.6" y="345.3" width="2" height="2" fill="#fff" stroke="none"/>
<text x="839.5" y="346.5" textLength="15.3" lengthAdjust="spacingAndGlyphs">211</text>
<rect x="846.1" y="360.4" width="2" height="2" fill="#fff" stroke="none"/>
<text x="848.0" y="361.6" textLength="16.0" lengthAdjust="spacingAndGlyphs">336</text>
<rect x="854.4" y="376.0" width="2" height="2" fill="#fff" stroke="none"/>
<text x="856.3" y="377.2" textLength="16.0" lengthAdjust="spacingAndGlyphs">612</text>
<rect x="863.0" y="391.6" width="2" height="2" fill="#fff" stroke="none"/>
<text x="864.9" y="392.8" textLength="20.6" lengthAdjust="spacingAndGlyphs">1190</text>
<rect x="875.2" y="402.8" width="2" height="2" fill="#fff" stroke="none"/>
<text x="877.1" y="404.0" textLength="13.3" lengthAdjust="spacingAndGlyphs">DS</text>
<rect x="884.4" y="419.5" width="2" height="2" fill="#fff" stroke="none"/>
<text x="886.3" y="420.7" textLength="13.3" lengthAdjust="spacingAndGlyphs">DS</text>
<rect x="691.2" y="242.0" width="2" height="2" fill="#fff" stroke="none"/>
<text x="693.1" y="243.2" textLength="10.7" lengthAdjust="spacingAndGlyphs">97</text>
<rect x="699.7" y="256.2" width="2" height="2" fill="#fff" stroke="none"/>
<text x="701.6" y="257.4" textLength="10.7" lengthAdjust="spacingAndGlyphs">54</text>
<rect x="716.3" y="271.1" width="2" height="2" fill="#fff" stroke="none"/>
<text x="718.2" y="272.2" textLength="16.0" lengthAdjust="spacingAndGlyphs">103</text>
<rect x="724.9" y="286.5" width="2" height="2" fill="#fff" stroke="none"/>
<text x="726.8" y="287.7" textLength="10.7" lengthAdjust="spacingAndGlyphs">86</text>
<rect x="736.8" y="297.8" width="2" height="2" fill="#fff" stroke="none"/>
<text x="738.7" y="299.0" textLength="16.0" lengthAdjust="spacingAndGlyphs">103</text>
<rect x="749.4" y="317.0" width="2" height="2" fill="#fff" stroke="none"/>
<text x="751.3" y="318.2" textLength="16.0" lengthAdjust="spacingAndGlyphs">178</text>
<rect x="761.9" y="328.6" width="2" height="2" fill="#fff" stroke="none"/>
<text x="763.8" y="329.8" textLength="10.7" lengthAdjust="spacingAndGlyphs">97</text>
<rect x="770.5" y="343.1" width="2" height="2" fill="#fff" stroke="none"/>
<text x="772.4" y="344.3" textLength="10.7" lengthAdjust="spacingAndGlyphs">37</text>
<rect x="783.0" y="355.2" width="2" height="2" fill="#fff" stroke="none"/>
<text x="784.9" y="356.4" textLength="16.0" lengthAdjust="spacingAndGlyphs">103</text>
<rect x="795.5" y="374.6" width="2" height="2" fill="#fff" stroke="none"/>
<text x="797.4" y="375.8" textLength="16.0" lengthAdjust="spacingAndGlyphs">178</text>
<rect x="807.4" y="385.7" width="2" height="2" fill="#fff" stroke="none"/>
<text x="809.3" y="386.9" textLength="16.0" lengthAdjust="spacingAndGlyphs">305</text>
<rect x="816.0" y="401.2" width="2" height="2" fill="#fff" stroke="none"/>
<text x="817.9" y="402.4" textLength="16.0" lengthAdjust="spacingAndGlyphs">535</text>
<rect x="824.8" y="416.7" width="2" height="2" fill="#fff" stroke="none"/>
<text x="826.7" y="417.9" textLength="16.0" lengthAdjust="spacingAndGlyphs">969</text>
<rect x="841.0" y="431.6" width="2" height="2" fill="#fff" stroke="none"/>
<text x="842.9" y="432.8" textLength="13.3" lengthAdjust="spacingAndGlyphs">DS</text>
<rect x="851.9" y="444.3" width="2" height="2" fill="#fff" stroke="none"/>
<text x="853.8" y="445.5" textLength="13.3" lengthAdjust="spacingAndGlyphs">DS</text>
<rect x="638.4" y="290.1" width="2" height="2" fill="#fff" stroke="none"/>
<text x="640.3" y="291.3" textLength="13.8" lengthAdjust="spacingAndGlyphs">-61</text>
<rect x="650.5" y="301.5" width="2" height="2" fill="#fff" stroke="none"/>
<text x="652.4" y="302.7" textLength="13.8" lengthAdjust="spacingAndGlyphs">-17</text>
<rect x="662.8" y="313.0" width="2" height="2" fill="#fff" stroke="none"/>
<text x="664.7" y="314.2" textLength="10.7" lengthAdjust="spacingAndGlyphs">23</text>
<rect x="679.0" y="327.8" width="2" height="2" fill="#fff" stroke="none"/>
<text x="680.9" y="329.0" textLength="10.7" lengthAdjust="spacingAndGlyphs">18</text>
<rect x="691.3" y="339.5" width="2" height="2" fill="#fff" stroke="none"/>
<text x="693.2" y="340.7" textLength="5.3" lengthAdjust="spacingAndGlyphs">9</text>
<rect x="699.9" y="354.7" width="2" height="2" fill="#fff" stroke="none"/>
<text x="701.8" y="355.9" textLength="13.8" lengthAdjust="spacingAndGlyphs">-23</text>
<rect x="716.3" y="369.8" width="2" height="2" fill="#fff" stroke="none"/>
<text x="718.2" y="371.0" textLength="13.8" lengthAdjust="spacingAndGlyphs">-15</text>
<rect x="728.6" y="381.0" width="2" height="2" fill="#fff" stroke="none"/>
<text x="730.5" y="382.2" textLength="5.3" lengthAdjust="spacingAndGlyphs">1</text>
<rect x="741.1" y="392.7" width="2" height="2" fill="#fff" stroke="none"/>
<text x="743.0" y="393.9" textLength="10.7" lengthAdjust="spacingAndGlyphs">66</text>
<rect x="757.1" y="407.7" width="2" height="2" fill="#fff" stroke="none"/>
<text x="759.0" y="408.9" textLength="10.7" lengthAdjust="spacingAndGlyphs">91</text>
<rect x="769.7" y="419.1" width="2" height="2" fill="#fff" stroke="none"/>
<text x="771.6" y="420.3" textLength="16.0" lengthAdjust="spacingAndGlyphs">223</text>
<rect x="778.3" y="434.6" width="2" height="2" fill="#fff" stroke="none"/>
<text x="780.2" y="435.8" textLength="16.0" lengthAdjust="spacingAndGlyphs">412</text>
<rect x="794.6" y="449.4" width="2" height="2" fill="#fff" stroke="none"/>
<text x="796.5" y="450.6" textLength="16.0" lengthAdjust="spacingAndGlyphs">531</text>
<rect x="806.7" y="460.9" width="2" height="2" fill="#fff" stroke="none"/>
<text x="808.6" y="462.1" textLength="13.3" lengthAdjust="spacingAndGlyphs">DS</text>
<rect x="816.4" y="474.5" width="2" height="2" fill="#fff" stroke="none"/>
<text x="818.3" y="475.7" textLength="13.3" lengthAdjust="spacingAndGlyphs">DS</text>
<rect x="870.3" y="467.9" width="2.4" height="2.4" fill="#e82c00" stroke="none"/>
<text x="872.4" y="469.3" textLength="26.6" lengthAdjust="spacingAndGlyphs">71288</text>
</g>
<rect x="970" y="214.3" width="27.4" height="28.1" fill="#e82c00"/>
<rect x="970" y="242.1" width="27.4" height="28.1" fill="#e84a06"/>
<rect x="970" y="270.0" width="27.4" height="28.1" fill="#e86e0a"/>
<rect x="970" y="297.8" width="27.4" height="28.1" fill="#ee9018"/>
<rect x="970" y="325.7" width="27.4" height="28.1" fill="#f5c238"/>
<rect x="970" y="353.5" width="27.4" height="28.1" fill="#f6e85a"/>
<rect x="970" y="381.4" width="27.4" height="28.1" fill="#dfe2a2"/>
<rect x="970" y="409.2" width="27.4" height="28.1" fill="#b9cfdc"/>
<rect x="970" y="437.1" width="27.4" height="28.1" fill="#9fbdee"/>
<rect x="970" y="464.9" width="27.4" height="28.1" fill="#6b8ecb"/>
<rect x="970" y="492.8" width="27.4" height="28.1" fill="#4b6aaa"/>
<g font-family="&quot;Liberation Sans&quot;, sans-serif" font-size="9.2" fill="#1c1c1c" stroke="#1c1c1c" stroke-width="0.25">
<text x="1001.6" y="220.9" textLength="17.7" lengthAdjust="spacingAndGlyphs">Lux</text>
<text x="1001.6" y="248.7" textLength="30.7" lengthAdjust="spacingAndGlyphs">3000&lt;</text>
<text x="1001.6" y="276.6" textLength="24.4" lengthAdjust="spacingAndGlyphs">2700</text>
<text x="1001.6" y="304.4" textLength="24.4" lengthAdjust="spacingAndGlyphs">2400</text>
<text x="1001.6" y="332.3" textLength="24.4" lengthAdjust="spacingAndGlyphs">2100</text>
<text x="1001.6" y="360.1" textLength="24.4" lengthAdjust="spacingAndGlyphs">1800</text>
<text x="1001.6" y="388.0" textLength="24.4" lengthAdjust="spacingAndGlyphs">1500</text>
<text x="1001.6" y="415.8" textLength="24.4" lengthAdjust="spacingAndGlyphs">1200</text>
<text x="1001.6" y="443.7" textLength="18.3" lengthAdjust="spacingAndGlyphs">900</text>
<text x="1001.6" y="471.5" textLength="18.3" lengthAdjust="spacingAndGlyphs">600</text>
<text x="1001.6" y="499.4" textLength="18.3" lengthAdjust="spacingAndGlyphs">300</text>
<text x="1001.6" y="527.2" textLength="12.5" lengthAdjust="spacingAndGlyphs">&lt;0</text>
</g>
</svg>
</body></html>
